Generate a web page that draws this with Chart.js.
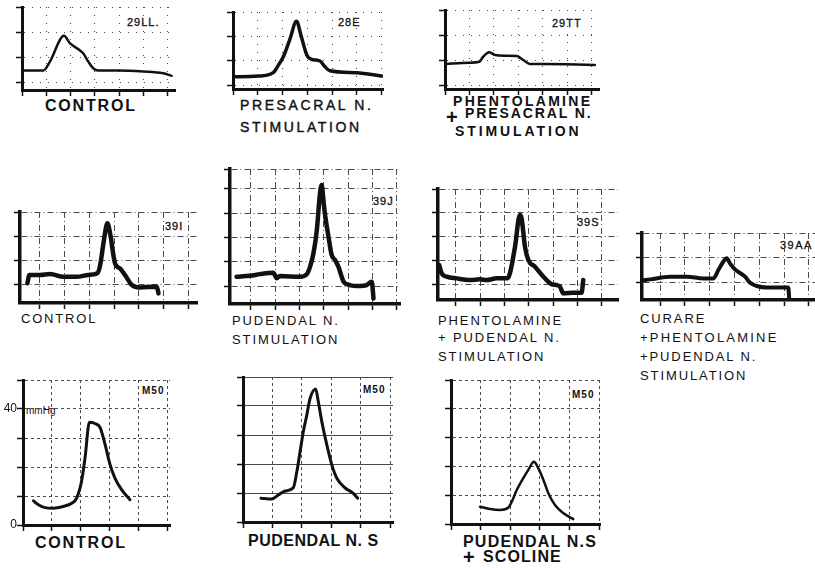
<!DOCTYPE html>
<html>
<head>
<meta charset="utf-8">
<script src="https://cdn.jsdelivr.net/npm/chart.js@4.4.1/dist/chart.umd.min.js"></script>
<style>
  body { margin: 0; width: 815px; height: 568px; position: relative; overflow: hidden; background: #fff;
         font-family: "Liberation Sans", Arial, sans-serif; color: #111; }
  canvas { position: absolute; }
  .t { position: absolute; white-space: nowrap; line-height: 1; }
  .r1 { font-size: 14px; font-weight: 700; letter-spacing: 2.3px; }
  .r2 { font-size: 13px; letter-spacing: 1.9px; }
  .r3 { font-size: 16px; font-weight: 700; }
  .id { font-size: 11px; letter-spacing: 1px; -webkit-text-stroke: 0.3px #111; }
  .m50 { font-size: 10px; font-weight: 700; letter-spacing: 1px; }
  .plus { font-size: 20px; font-weight: 700; }
</style>
</head>
<body>

<!-- row 1 captions -->
<div class="t r1" style="left:45px;top:98px;font-size:16px;letter-spacing:1.8px">CONTROL</div>
<div class="t" style="left:240px;top:98px;font-size:14px;letter-spacing:2.6px;-webkit-text-stroke:0.4px #111">PRESACRAL N.</div>
<div class="t" style="left:240px;top:120px;font-size:14px;letter-spacing:2.6px;-webkit-text-stroke:0.4px #111">STIMULATION</div>
<div class="t r1" style="left:453px;top:94px">PHENTOLAMINE</div>
<div class="t plus" style="left:446px;top:107px">+</div>
<div class="t r1" style="left:465px;top:106px;letter-spacing:1.9px">PRESACRAL N.</div>
<div class="t r1" style="left:455px;top:124px;letter-spacing:2.9px">STIMULATION</div>

<!-- row 2 captions -->
<div class="t r2" style="left:21px;top:312px;letter-spacing:1.8px">CONTROL</div>
<div class="t r2" style="left:232px;top:314px">PUDENDAL N.</div>
<div class="t r2" style="left:232px;top:333px">STIMULATION</div>
<div class="t r2" style="left:438px;top:314px">PHENTOLAMINE</div>
<div class="t r2" style="left:438px;top:331px">+ PUDENDAL N.</div>
<div class="t r2" style="left:438px;top:350px">STIMULATION</div>
<div class="t r2" style="left:640px;top:312px">CURARE</div>
<div class="t r2" style="left:640px;top:331px;letter-spacing:2.2px">+PHENTOLAMINE</div>
<div class="t r2" style="left:640px;top:350px">+PUDENDAL N.</div>
<div class="t r2" style="left:640px;top:369px">STIMULATION</div>

<!-- row 3 captions -->
<div class="t r3" style="left:35px;top:535px;letter-spacing:1.8px">CONTROL</div>
<div class="t r3" style="left:248px;top:533px;letter-spacing:0.5px">PUDENDAL N. S</div>
<div class="t r3" style="left:463px;top:534px;letter-spacing:1.2px">PUDENDAL N.S</div>
<div class="t plus" style="left:463px;top:547px">+</div>
<div class="t r3" style="left:483px;top:549px;letter-spacing:1.1px">SCOLINE</div>

<!-- record numbers -->
<div class="t id" style="left:127px;top:17px">29LL.</div>
<div class="t id" style="left:338px;top:17px">28E</div>
<div class="t id" style="left:552px;top:18px">29TT</div>
<div class="t id" style="left:165px;top:221px">39I</div>
<div class="t id" style="left:373px;top:196px">39J</div>
<div class="t id" style="left:577px;top:217px">39S</div>
<div class="t id" style="left:780px;top:240px;letter-spacing:1.5px">39AA</div>
<div class="t m50" style="left:142px;top:386px">M50</div>
<div class="t m50" style="left:363px;top:385px">M50</div>
<div class="t m50" style="left:572px;top:390px">M50</div>
<div class="t" style="left:26px;top:406px;font-size:10px">mmHg</div>

<script>
// traces, x in chart divisions, y in divisions (rows 1-2) or mmHg (row 3)
const x29LL = [0, 0.88, 1.15, 1.73, 1.97, 2.52, 2.73, 2.93, 3.14, 3.96, 4.99, 5.81, 6.16];
const y29LL = [0.49, 0.49, 0.84, 1.86, 1.57, 1.17, 0.84, 0.58, 0.49, 0.49, 0.45, 0.38, 0.28];

const x28E = [0, 1.02, 1.62, 1.83, 2.03, 2.3, 2.56, 2.76, 2.98, 3.16, 3.51, 3.71, 3.91, 4.99, 5.99];
const y28E = [0.34, 0.37, 0.51, 0.82, 1.16, 1.9, 2.62, 1.97, 1.23, 1.06, 0.99, 0.75, 0.59, 0.51, 0.37];

const x29TT = [0, 0.99, 1.4, 1.56, 1.81, 2.04, 2.45, 2.93, 3.2, 3.47, 3.97, 4.97, 6.12];
const y29TT = [0.84, 0.89, 0.93, 1.13, 1.31, 1.2, 1.17, 1.16, 1.0, 0.84, 0.84, 0.83, 0.8];

const x39I = [-0.51, -0.43, 0, 0.41, 0.94, 1.49, 1.96, 2.32, 2.43, 2.59, 2.73, 2.84, 3.04, 3.24, 3.44, 3.72, 4.05, 4.73, 4.8];
const y39I = [0.03, 0.38, 0.38, 0.42, 0.3, 0.3, 0.38, 0.45, 0.75, 1.83, 2.53, 2.11, 0.86, 0.65, 0.38, -0.04, -0.14, -0.11, -0.39];

const x39J = [-0.59, -0.04, 0.37, 0.92, 1.06, 1.19, 2.02, 2.3, 2.43, 2.57, 2.71, 2.84, 2.91, 2.98, 3.05, 3.19, 3.32, 3.46, 3.6, 3.81, 4.07, 4.49, 4.76, 4.97, 5.04];
const y39J = [0.38, 0.42, 0.49, 0.55, 0.32, 0.41, 0.38, 0.49, 0.79, 1.34, 2.3, 3.81, 4.16, 3.54, 2.92, 2.03, 1.28, 1.07, 0.79, 0.18, 0.04, 0, 0.04, 0.18, -0.51];

const x39S = [-0.69, -0.59, -0.38, 0.03, 0.58, 0.99, 1.26, 1.67, 2.11, 2.22, 2.43, 2.63, 2.7, 2.84, 2.98, 3.25, 3.6, 3.94, 4.15, 4.28, 4.42, 4.83, 5.17, 5.24];
const y39S = [0.8, 0.45, 0.31, 0.24, 0.17, 0.2, 0.17, 0.24, 0.24, 0.45, 1.57, 2.91, 2.77, 1.57, 1.01, 0.73, 0.31, -0.01, -0.04, -0.11, -0.39, -0.37, -0.37, 0.17];

const x39AA = [-0.7, -0.4, 0.4, 1.08, 1.75, 2.15, 2.35, 2.55, 2.69, 2.82, 3.02, 3.43, 3.63, 3.9, 4.3, 5.17, 5.21];
const y39AA = [0.08, 0.11, 0.22, 0.22, 0.15, 0.15, 0.49, 0.83, 0.97, 0.76, 0.52, 0.22, -0.03, -0.16, -0.22, -0.22, -0.67];

const xM50ctl = [0.36, 0.53, 0.76, 1.04, 1.39, 1.68, 1.85, 2.02, 2.14, 2.29, 2.48, 2.66, 2.83, 3.0, 3.17, 3.4, 3.69];
const yM50ctl = [8.3, 7.0, 6.0, 5.8, 6.4, 7.5, 9.3, 15.1, 23.2, 35.4, 35.0, 33.6, 27.8, 20.9, 16.2, 12.2, 8.7];

const xM50pud = [0.61, 0.98, 1.2, 1.43, 1.71, 1.83, 1.94, 2.05, 2.17, 2.28, 2.47, 2.56, 2.68, 2.85, 3.02, 3.19, 3.47, 3.75, 3.9];
const yM50pud = [8.2, 7.9, 9.3, 10.7, 11.8, 17.3, 24.2, 31.1, 36.9, 42.6, 45.9, 41.5, 34.6, 26.6, 19.7, 15.1, 11.8, 9.9, 8.2];

const xM50sco = [0.98, 1.32, 1.66, 1.94, 2.05, 2.22, 2.44, 2.61, 2.8, 2.95, 3.12, 3.29, 3.51, 3.8, 4.13];
const yM50sco = [6.0, 5.2, 4.9, 5.7, 7.7, 11.8, 15.9, 18.8, 21.6, 19.3, 15.3, 10.6, 6.6, 3.7, 1.7];

// grid divisions
const cols6 = [0, 1, 2, 3, 4, 5, 6];
const cols5 = [0, 1, 2, 3, 4, 5];
const rows2 = [0, 1, 2];
const rows3 = [0, 1, 2, 3];
const rows4 = [0, 1, 2, 3, 4];
const rows39J = [0, 1, 2, 3, 4, 4.82];
const mmHgTicks = [0, 10, 20, 30, 40, 50];
const mmHgLabels = [0, 40];

const DOTS = [1, 7];
const DASHDOT = [6, 3, 1, 3];
const DASH = [3, 3];

// area = [left, top, right, bottom] of the plot box in page pixels
const panels = [
  { xs: x29LL, ys: y29LL, cols: cols6, rows: rows3, area: [22, 7, 175, 90], xr: [0, 6.3], yr: [-0.28, 3], lw: 2.5, dash: DOTS, bw: 3 },
  { xs: x28E, ys: y28E, cols: cols6, rows: rows3, area: [233, 12, 383, 89], xr: [0, 6.05], yr: [-0.16, 3], lw: 3.5, dash: DOTS, bw: 3 },
  { xs: x29TT, ys: y29TT, cols: cols6, rows: rows3, area: [445, 10, 599, 89], xr: [0, 6.29], yr: [-0.16, 3], lw: 2.5, dash: DOTS, bw: 3 },
  { xs: x39I, ys: y39I, cols: cols6, rows: rows3, area: [20, 212, 197, 303], xr: [-0.81, 6.36], yr: [-0.79, 3], lw: 4.5, dash: DASHDOT, bw: 3.5 },
  { xs: x39J, ys: y39J, cols: cols6, rows: rows39J, area: [230, 169, 400, 304], xr: [-0.86, 6.13], yr: [-0.74, 4.82], lw: 4.5, dash: DASHDOT, bw: 3.5 },
  { xs: x39S, ys: y39S, cols: cols6, rows: rows4, area: [438, 189, 618, 300], xr: [-0.74, 6.67], yr: [-0.67, 4], lw: 4.5, dash: DASHDOT, bw: 3.5 },
  { xs: x39AA, ys: y39AA, cols: cols6, rows: rows2, area: [642, 233, 815, 300], xr: [-0.73, 6.25], yr: [-0.73, 2], lw: 4, dash: DASHDOT, bw: 3.5 },
  { xs: xM50ctl, ys: yM50ctl, cols: cols5, rows: mmHgTicks, area: [23, 380, 170, 525], xr: [0, 5.07], yr: [0, 50], lw: 3, dash: DASH, bw: 3, labels: true },
  { xs: xM50pud, ys: yM50pud, cols: cols5, rows: mmHgTicks, area: [243, 377, 393, 522], xr: [0, 5.1], yr: [0, 50], lw: 3, dash: DASH, yDash: [], bw: 3 },
  { xs: xM50sco, ys: yM50sco, cols: cols5, rows: mmHgTicks, area: [451, 380, 600, 524], xr: [0, 5.03], yr: [0, 50], lw: 2.5, dash: DASH, bw: 3 }
];

const LABEL_W = 20;

function axis(vals, range, dash, bw, horizontal, showLabels) {
  return {
    type: 'linear',
    min: range[0],
    max: range[1],
    afterBuildTicks: s => { s.ticks = vals.map(value => ({ value })) },
    // keep the plot box where the page layout wants it
    afterFit: s => {
      if (horizontal) s.height = 0
      else s.width = showLabels ? LABEL_W : 0
    },
    grid: {
      color: '#4a4a4a', lineWidth: 1,
      drawTicks: true, tickLength: 6, tickColor: '#111', tickWidth: 1.5, tickBorderDash: []
    },
    border: { display: true, color: '#111', width: bw, dash },
    ticks: {
      display: !!showLabels,
      padding: 0,
      color: '#111',
      font: { family: 'Liberation Sans, Arial', size: 12 },
      callback: v => mmHgLabels.includes(v) ? String(v) : ''
    }
  }
}

function build(p) {
  const [l, t, r, b] = p.area;
  const yw = p.labels ? LABEL_W : 0;
  const pad = { left: 8, top: 10, right: 4, bottom: 10 };
  const cv = document.createElement('canvas');
  cv.width = r - l + pad.left + pad.right + yw;
  cv.height = b - t + pad.top + pad.bottom;
  cv.style.left = (l - pad.left - yw) + 'px';
  cv.style.top = (t - pad.top) + 'px';
  document.body.appendChild(cv);

  new Chart(cv, {
    type: 'line',
    data: {
      datasets: [{
        data: p.xs.map((x, i) => ({ x, y: p.ys[i] })),
        borderColor: '#111',
        borderWidth: p.lw,
        pointRadius: 0,
        fill: false,
        cubicInterpolationMode: 'monotone',
        borderCapStyle: 'round',
        borderJoinStyle: 'round'
      }]
    },
    options: {
      responsive: false,
      animation: false,
      events: [],
      layout: { padding: pad },
      plugins: { legend: { display: false }, tooltip: { enabled: false } },
      scales: {
        x: axis(p.cols, p.xr, p.dash, p.bw, true, false),
        y: axis(p.rows, p.yr, p.yDash || p.dash, p.bw, false, p.labels)
      }
    }
  });
}

panels.forEach(build);
</script>
</body>
</html>
